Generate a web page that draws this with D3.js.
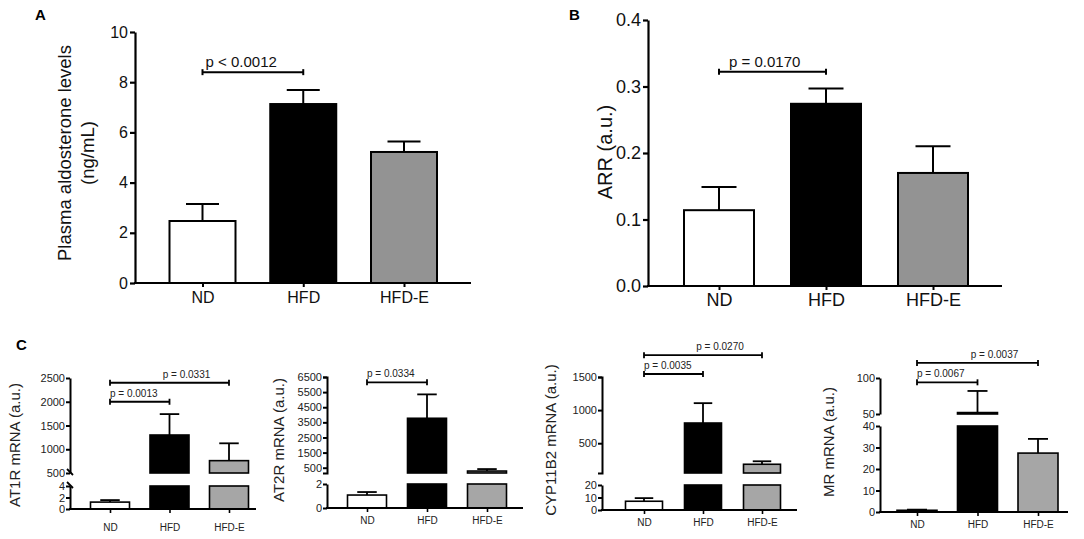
<!DOCTYPE html>
<html>
<head>
<meta charset="utf-8">
<script src="https://cdn.jsdelivr.net/npm/d3@7"></script>
<style>
  body { margin: 0; background: #fff; }
  svg { display: block; font-family: Arial, "Liberation Sans", sans-serif; }
</style>
</head>
<body>
<script>
const groups = ['ND', 'HFD', 'HFD-E'];

// A - plasma aldosterone (ng/mL)
const aldoMean = [2.47, 7.13, 5.22];
const aldoSem = [0.68, 0.56, 0.42];
const aldoTicks = [0, 2, 4, 6, 8, 10];
const aldoBrackets = [['ND', 'HFD', 8.4, 'p < 0.0012']];

// B - ARR (a.u.)
const arrMean = [0.114, 0.274, 0.170];
const arrSem = [0.035, 0.023, 0.040];
const arrTicks = [0, 0.1, 0.2, 0.3, 0.4];
const arrBrackets = [['ND', 'HFD', 0.322, 'p = 0.0170']];

// C - mRNA (a.u.)
const at1rMean = [1.2, 1300, 760];
const at1rSem = [0.35, 440, 365];
const at1rLowTicks = [0, 2, 4];
const at1rHighTicks = [500, 1000, 1500, 2000, 2500];
const at1rBrackets = [['ND', 'HFD', 2000, 'p = 0.0013'], ['ND', 'HFD-E', 2400, 'p = 0.0331']];

const at2rMean = [1.08, 3770, 280];
const at2rSem = [0.25, 1580, 130];
const at2rLowTicks = [0, 2];
const at2rHighTicks = [500, 1500, 2500, 3500, 4500, 5500, 6500];
const at2rBrackets = [['ND', 'HFD', 6150, 'p = 0.0334']];

const cypMean = [7, 805, 182];
const cypSem = [2.5, 300, 45];
const cypLowTicks = [0, 10, 20];
const cypHighTicks = [500, 1000, 1500];
const cypBrackets = [['ND', 'HFD', 1545, 'p = 0.0035'], ['ND', 'HFD-E', 1830, 'p = 0.0270']];

const mrMean = [0.8, 52, 27.4];
const mrSem = [0.3, 30, 6.6];
const mrLowTicks = [0, 10, 20, 30, 40];
const mrHighTicks = [50, 100];
const mrBrackets = [['ND', 'HFD', 94, 'p = 0.0067'], ['ND', 'HFD-E', 121, 'p = 0.0037']];

const svg = d3.select('body').append('svg').attr('width', 1084).attr('height', 539);

function styleAxis(g, font, sw, color) {
  g.attr('font-family', 'Arial, "Liberation Sans", sans-serif').attr('font-size', font);
  g.selectAll('path, line').attr('stroke', '#000').attr('stroke-width', sw);
  g.selectAll('text').attr('fill', color);
}

function drawBrackets(g, x, yOf, list, o) {
  list.forEach(b => {
    const x0 = x(b[0]), x1 = x(b[1]), yy = yOf(b[2]);
    g.append('line').attr('x1', x0).attr('x2', x1).attr('y1', yy).attr('y2', yy)
     .attr('stroke', '#000').attr('stroke-width', o.sw);
    [x0, x1].forEach(xx => g.append('line').attr('x1', xx).attr('x2', xx)
      .attr('y1', yy - 3).attr('y2', yy + 3).attr('stroke', '#000').attr('stroke-width', o.sw));
    const wide = groups.indexOf(b[1]) - groups.indexOf(b[0]) > 1;
    g.append('text').text(b[3])
     .attr('x', wide ? (x0 + x1) / 2 + 17 : x0 + o.pdx)
     .attr('y', yy - 5)
     .attr('text-anchor', wide ? 'middle' : 'start')
     .attr('font-size', o.pFont).attr('fill', o.color);
  });
}

function yLabel(g, lines, xs, y, font, color) {
  lines.forEach((t, i) => {
    g.append('text').text(t)
     .attr('transform', `translate(${xs[i]},${y}) rotate(-90)`)
     .attr('text-anchor', 'middle').attr('font-size', font).attr('fill', color);
  });
}

function simplePanel(o) {
  const g = svg.append('g');
  const fills = ['#fff', '#000', '#939393'];
  const x = d3.scalePoint().domain(groups).range([o.c0, o.c1]);
  const y = d3.scaleLinear().domain([0, o.max]).range([o.base, o.top]);

  // error bars first, then bars on top
  groups.forEach((k, i) => {
    const top = y(o.mean[i] + o.sem[i]);
    g.append('line').attr('x1', x(k)).attr('x2', x(k)).attr('y1', y(o.mean[i])).attr('y2', top)
     .attr('stroke', '#000').attr('stroke-width', 2);
    g.append('line').attr('x1', x(k) - o.bw / 4).attr('x2', x(k) + o.bw / 4).attr('y1', top).attr('y2', top)
     .attr('stroke', '#000').attr('stroke-width', 2);
  });
  g.selectAll('rect.bar').data(o.mean).enter().append('rect')
   .attr('class', 'bar')
   .attr('x', (d, i) => x(groups[i]) - o.bw / 2)
   .attr('y', d => y(d))
   .attr('width', o.bw)
   .attr('height', d => y(0) - y(d))
   .attr('fill', (d, i) => fills[i])
   .attr('stroke', '#000').attr('stroke-width', 2);

  const ya = g.append('g').attr('transform', `translate(${o.ax},0)`)
    .call(d3.axisLeft(y).tickValues(o.ticks).tickSize(5).tickSizeOuter(0).tickPadding(2).tickFormat(o.fmt));
  styleAxis(ya, o.tickFont, 2.2, '#111');

  const xa = g.append('g').attr('transform', `translate(0,${o.base})`)
    .call(d3.axisBottom(x).tickSize(4).tickSizeOuter(0).tickPadding(o.xPad));
  xa.select('.domain').remove();
  styleAxis(xa, o.labFont, 2, '#111');
  g.append('line').attr('x1', o.ax - 1).attr('x2', o.axEnd).attr('y1', o.base).attr('y2', o.base)
   .attr('stroke', '#000').attr('stroke-width', 2.2);

  drawBrackets(g, x, y, o.brackets, { sw: 2, pdx: o.pdx, pFont: o.pFont, color: '#111' });
  yLabel(g, o.label, o.labelX, o.labelY, o.labelFont, '#111');
  g.append('text').text(o.letter).attr('x', o.letterX).attr('y', o.letterY)
   .attr('font-size', 15).attr('font-weight', 'bold');
}

function brokenPanel(o) {
  const g = svg.append('g');
  const fills = ['#fff', '#000', '#a6a6a6'];
  const fmt = d3.format('d');
  const x = d3.scalePoint().domain(groups).range([o.c0, o.c1]);
  const yLo = d3.scaleLinear().domain(o.lo).range([o.base, o.loTop]);
  const yHi = d3.scaleLinear().domain(o.hi).range([o.hiBot, o.hiTop]);
  const yAny = v => v <= o.lo[1] ? yLo(v) : yHi(v);

  groups.forEach((k, i) => {
    const m = o.mean[i], top = yAny(m + o.sem[i]);
    g.append('line').attr('x1', x(k)).attr('x2', x(k)).attr('y1', yAny(m)).attr('y2', top)
     .attr('stroke', '#000').attr('stroke-width', 1.8);
    g.append('line').attr('x1', x(k) - o.bw / 4).attr('x2', x(k) + o.bw / 4).attr('y1', top).attr('y2', top)
     .attr('stroke', '#000').attr('stroke-width', 1.8);
  });
  // lower segment of each bar
  g.selectAll('rect.lo').data(o.mean).enter().append('rect')
   .attr('x', (d, i) => x(groups[i]) - o.bw / 2)
   .attr('y', d => yLo(Math.min(d, o.lo[1])))
   .attr('width', o.bw)
   .attr('height', d => yLo(0) - yLo(Math.min(d, o.lo[1])))
   .attr('fill', (d, i) => fills[i]).attr('stroke', '#000').attr('stroke-width', 1.6);
  // upper segment where the value passes the break
  g.selectAll('rect.hi').data(o.mean.map((d, i) => [d, i]).filter(p => p[0] > o.hi[0])).enter().append('rect')
   .attr('x', p => x(groups[p[1]]) - o.bw / 2)
   .attr('y', p => yHi(p[0]))
   .attr('width', o.bw)
   .attr('height', p => yHi(o.hi[0]) - yHi(p[0]))
   .attr('fill', p => fills[p[1]]).attr('stroke', '#000').attr('stroke-width', 1.6);

  const lo = g.append('g').attr('transform', `translate(${o.ax},0)`)
    .call(d3.axisLeft(yLo).tickValues(o.loTicks).tickSize(4).tickSizeOuter(0).tickPadding(1).tickFormat(fmt));
  styleAxis(lo, 11, 2, '#222');
  const hi = g.append('g').attr('transform', `translate(${o.ax},0)`)
    .call(d3.axisLeft(yHi).tickValues(o.hiTicks).tickSize(4).tickSizeOuter(o.outer).tickPadding(1).tickFormat(fmt));
  styleAxis(hi, 11, 2, '#222');
  if (o.slashes) {
    [o.hiBot, o.loTop].forEach(yy => g.append('line')
      .attr('x1', o.ax - 3).attr('x2', o.ax + 3).attr('y1', yy - 4).attr('y2', yy + 2)
      .attr('stroke', '#000').attr('stroke-width', 1.8));
  }

  const xa = g.append('g').attr('transform', `translate(0,${o.base})`)
    .call(d3.axisBottom(x).tickSize(4).tickSizeOuter(0).tickPadding(o.xPad));
  xa.select('.domain').remove();
  styleAxis(xa, 10, 1.6, '#222');
  g.append('line').attr('x1', o.ax - 1).attr('x2', o.axEnd).attr('y1', o.base).attr('y2', o.base)
   .attr('stroke', '#000').attr('stroke-width', 2);

  drawBrackets(g, x, yAny, o.brackets, { sw: 1.8, pdx: 0, pFont: 10, color: '#222' });
  yLabel(g, [o.label], [o.labelX], o.labelY, 15, '#222');
}

simplePanel({
  mean: aldoMean, sem: aldoSem, ticks: aldoTicks, max: 10, fmt: d3.format('d'),
  c0: 202.5, c1: 404, bw: 66, ax: 135, axEnd: 471, base: 283, top: 32,
  tickFont: 16, labFont: 16, pFont: 15, pdx: 3, xPad: 5, brackets: aldoBrackets,
  label: ['Plasma aldosterone levels', '(ng/mL)'], labelX: [71, 94], labelY: 153, labelFont: 18.5,
  letter: 'A', letterX: 35, letterY: 20
});

simplePanel({
  mean: arrMean, sem: arrSem, ticks: arrTicks, max: 0.4, fmt: d3.format('.1f'),
  c0: 719, c1: 933, bw: 70, ax: 648, axEnd: 1002, base: 286, top: 20,
  tickFont: 18, labFont: 18, pFont: 15, pdx: 10, xPad: 3, brackets: arrBrackets,
  label: ['ARR (a.u.)'], labelX: [612], labelY: 152, labelFont: 20,
  letter: 'B', letterX: 569, letterY: 20
});

svg.append('text').text('C').attr('x', 16).attr('y', 350).attr('font-size', 15).attr('font-weight', 'bold');

brokenPanel({
  mean: at1rMean, sem: at1rSem, loTicks: at1rLowTicks, hiTicks: at1rHighTicks, brackets: at1rBrackets,
  c0: 110, c1: 229, bw: 39, ax: 70, axEnd: 256, base: 509,
  lo: [0, 4], loTop: 486, hi: [500, 2500], hiBot: 473, hiTop: 378, outer: 0, slashes: true, xPad: 11,
  label: 'AT1R mRNA  (a.u.)', labelX: 20, labelY: 445
});

brokenPanel({
  mean: at2rMean, sem: at2rSem, loTicks: at2rLowTicks, hiTicks: at2rHighTicks, brackets: at2rBrackets,
  c0: 367, c1: 487, bw: 39, ax: 327, axEnd: 523, base: 508,
  lo: [0, 2], loTop: 484, hi: [150, 6500], hiBot: 473, hiTop: 377, outer: 4, slashes: false, xPad: 5,
  label: 'AT2R mRNA (a.u.)', labelX: 284, labelY: 440
});

brokenPanel({
  mean: cypMean, sem: cypSem, loTicks: cypLowTicks, hiTicks: cypHighTicks, brackets: cypBrackets,
  c0: 644, c1: 762, bw: 37, ax: 602, axEnd: 797, base: 510,
  lo: [0, 20], loTop: 485, hi: [50, 1500], hiBot: 473, hiTop: 377, outer: 4, slashes: false, xPad: 5,
  label: 'CYP11B2 mRNA (a.u.)', labelX: 556, labelY: 440
});

brokenPanel({
  mean: mrMean, sem: mrSem, loTicks: mrLowTicks, hiTicks: mrHighTicks, brackets: mrBrackets,
  c0: 917, c1: 1038, bw: 40, ax: 880, axEnd: 1068, base: 512,
  lo: [0, 40], loTop: 426, hi: [50, 100], hiBot: 414, hiTop: 378, outer: 0, slashes: false, xPad: 5,
  label: 'MR mRNA  (a.u.)', labelX: 834, labelY: 442
});
</script>
</body>
</html>
